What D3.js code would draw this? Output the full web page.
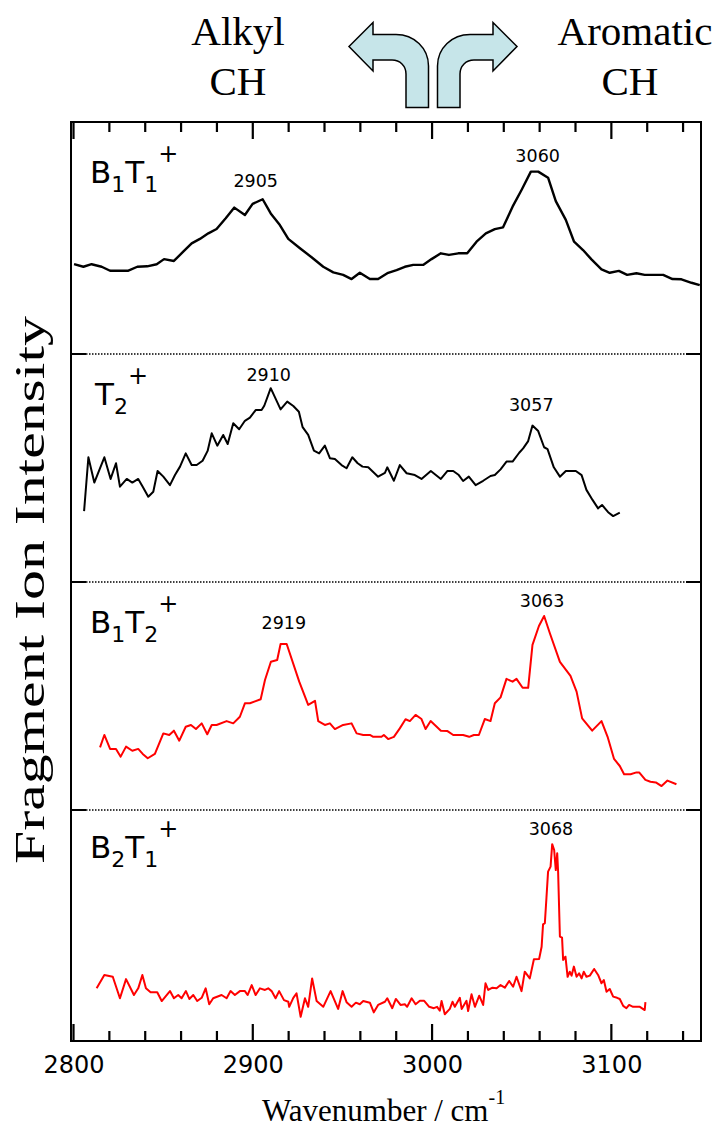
<!DOCTYPE html>
<html>
<head>
<meta charset="utf-8">
<script src="https://cdn.jsdelivr.net/npm/d3@7"></script>
<style>
  body { margin: 0; background: #fff; }
  svg { display: block; }
</style>
</head>
<body>
<div id="chart"></div>
<script>
// ---- data ----
var b1t1Wn = [2800.3,2805.5,2810.1,2815.7,2820.4,2830.6,2835.6,2841.1,2846.4,2850.5,2856.0,2861.2,2865.9,2870.5,2875.2,2879.8,2884.9,2889.7,2895.6,2899.9,2905.5,2910.0,2915.1,2919.8,2926.3,2932.8,2939.3,2944.9,2950.4,2955.1,2959.7,2965.3,2969.9,2975.5,2980.2,2984.8,2989.5,2995.0,2999.7,3004.9,3009.4,3014.6,3019.6,3024.8,3030.0,3035.0,3039.6,3044.9,3049.9,3055.1,3059.2,3064.7,3069.0,3074.6,3079.2,3084.2,3088.9,3094.5,3099.1,3104.2,3108.8,3114.0,3118.6,3128.9,3134.1,3139.1,3144.7,3149.3];
var b1t1Int = [38.7,37.6,38.7,37.6,35.9,35.9,37.6,37.8,38.7,40.9,40.1,44.1,47.7,49.6,52.0,53.9,58.5,63.1,59.9,64.7,66.7,60.6,55.6,49.6,45.6,41.7,37.6,35.2,34.1,32.3,35.0,32.3,32.3,35.0,36.2,37.6,38.4,38.4,40.9,43.4,42.7,43.4,43.4,48.4,52.0,53.8,54.6,63.5,70.7,78.6,78.6,76.0,65.9,57.8,48.4,44.8,40.8,36.5,35.0,35.8,34.1,34.8,34.1,34.1,32.3,32.2,30.7,29.7];

var t2Wn = [2805.9,2808.3,2811.6,2817.2,2820.7,2823.7,2825.9,2829.7,2832.8,2836.1,2838.6,2841.7,2844.5,2846.9,2850.1,2853.8,2856.6,2859.4,2862.6,2865.9,2868.7,2872.0,2874.8,2877.1,2880.2,2883.5,2886.0,2889.1,2892.4,2895.6,2898.4,2901.6,2904.9,2906.4,2910.0,2915.5,2919.2,2922.6,2925.7,2927.8,2930.9,2934.1,2937.0,2940.2,2943.0,2945.8,2949.5,2952.3,2955.5,2958.5,2961.2,2964.4,2969.9,2973.7,2975.0,2978.7,2982.0,2985.8,2990.4,2994.1,2999.3,3004.9,3008.6,3011.8,3014.9,3017.3,3020.5,3024.3,3028.5,3032.6,3035.0,3038.2,3041.5,3044.9,3048.6,3050.8,3053.6,3056.0,3059.2,3062.5,3064.4,3067.9,3071.3,3074.6,3080.2,3083.4,3086.1,3089.5,3092.6,3094.8,3098.2,3101.0,3104.7];
var t2Int = [31.1,54.7,43.6,54.7,45.2,52.1,41.8,45.2,43.6,45.2,41.8,37.4,39.6,48.7,46.2,42.5,46.9,50.6,56.4,51.3,51.3,53.2,57.5,65.2,59.8,64.5,60.5,69.6,67.0,70.7,72.1,75.4,75.4,77.3,85.0,75.7,79.1,77.2,74.7,67.9,64.5,57.6,56.4,59.8,54.3,53.9,51.3,49.9,54.7,52.1,50.6,50.3,46.2,47.9,50.3,44.4,51.3,47.7,46.9,45.2,48.7,45.2,48.7,48.7,46.9,44.3,46.2,42.5,44.4,46.5,46.9,49.4,52.8,52.8,56.7,58.6,61.8,68.6,66.2,59.1,58.3,50.3,46.2,48.7,48.7,46.9,40.4,36.0,32.3,33.8,30.6,28.9,30.4];

var b1t2Wn = [2814.8,2817.2,2820.4,2823.7,2826.3,2829.3,2832.8,2836.1,2838.6,2841.4,2845.4,2850.1,2853.4,2856.0,2859.0,2862.6,2865.5,2868.3,2871.5,2874.6,2877.1,2879.8,2885.4,2889.1,2892.8,2895.6,2898.4,2904.4,2906.8,2910.1,2913.6,2915.5,2918.9,2925.9,2930.9,2934.7,2936.5,2940.2,2943.0,2945.8,2950.4,2955.1,2957.9,2961.6,2965.3,2967.2,2971.8,2973.1,2975.5,2978.7,2982.0,2985.2,2987.6,2990.8,2994.1,2996.4,2999.2,3004.9,3008.6,3011.8,3017.3,3020.7,3023.3,3026.1,3029.4,3032.6,3035.0,3038.2,3041.5,3044.9,3047.1,3050.5,3053.6,3056.0,3059.6,3062.5,3065.7,3071.3,3077.2,3080.6,3083.7,3089.3,3094.5,3097.9,3101.5,3104.7,3107.1,3110.7,3114.0,3115.5,3119.0,3121.8,3124.8,3128.0,3131.3,3136.3];
var b1t2Int = [27.5,32.9,26.8,26.8,23.4,27.8,26.0,26.8,24.6,22.7,24.6,33.6,32.9,34.8,30.4,36.5,37.3,35.5,38.0,33.2,37.3,37.3,39.0,38.0,40.9,46.8,46.8,48.6,57.0,65.0,65.8,72.8,72.8,56.3,46.1,47.9,39.0,37.3,38.0,35.5,37.3,38.0,33.6,32.9,32.9,32.1,32.1,32.9,31.1,32.1,35.8,39.8,39.0,41.7,39.9,35.5,39.0,34.8,34.6,32.9,32.9,32.1,32.9,32.9,39.9,39.0,46.8,49.4,57.5,56.3,57.5,53.6,53.6,72.4,80.7,85.1,77.5,65.0,58.8,51.9,40.2,34.8,39.0,32.1,22.4,19.3,15.7,15.7,16.5,16.5,13.2,12.4,12.1,10.5,12.9,11.3];

var b2t1Wn = [2812.9,2817.2,2821.9,2825.9,2829.3,2833.7,2836.1,2838.4,2840.4,2843.0,2846.7,2849.2,2853.8,2856.0,2858.4,2860.3,2862.7,2864.6,2866.8,2869.0,2871.5,2873.7,2875.7,2877.9,2882.6,2885.4,2887.6,2890.0,2892.8,2895.6,2897.1,2899.4,2901.6,2904.0,2906.8,2908.6,2910.5,2912.7,2914.7,2917.4,2919.8,2920.3,2922.6,2924.4,2926.7,2929.1,2930.9,2933.1,2935.6,2939.3,2943.4,2947.6,2950.1,2952.3,2955.1,2957.5,2959.7,2961.6,2965.3,2967.5,2969.9,2973.7,2975.0,2977.8,2979.8,2982.4,2984.8,2986.1,2988.6,2990.8,2993.2,2995.6,2998.4,3001.0,3002.8,3004.3,3005.3,3007.1,3009.9,3011.4,3012.7,3015.5,3016.5,3019.2,3020.1,3022.0,3023.9,3026.3,3028.5,3029.8,3031.3,3033.7,3036.0,3038.2,3040.6,3043.0,3045.2,3047.1,3049.9,3051.7,3054.5,3056.8,3059.7,3061.1,3061.9,3062.9,3063.8,3064.7,3066.1,3067.0,3068.1,3069.0,3069.8,3070.3,3071.3,3072.5,3073.1,3074.4,3075.6,3076.8,3077.8,3079.1,3080.6,3082.0,3083.4,3084.6,3086.1,3088.0,3090.4,3092.6,3094.5,3095.8,3097.3,3099.1,3101.0,3103.2,3104.7,3106.6,3108.4,3109.9,3112.1,3115.9,3118.6,3119.0];
var b2t1Int = [22.8,28.6,27.8,18.5,26.8,19.9,22.8,28.6,22.8,21.1,21.1,17.3,21.6,18.5,19.9,18.5,21.6,18.2,19.9,17.3,18.7,22.8,15.9,18.5,19.9,18.5,21.6,19.9,21.6,21.6,19.9,24.2,19.9,22.8,22.1,22.8,21.6,18.5,21.6,17.7,17.0,14.8,18.7,20.6,10.5,18.5,14.8,27.1,17.3,14.8,21.6,13.9,21.6,16.8,14.8,16.6,15.9,17.3,16.6,12.4,15.6,17.0,18.5,14.2,18.2,15.6,15.9,14.8,18.5,15.9,17.4,17.4,14.8,14.2,14.8,13.1,17.3,11.6,13.9,17.0,14.8,18.7,13.9,17.4,13.0,20.2,14.8,19.6,15.6,25.0,22.1,23.1,22.8,24.2,23.1,26.0,23.5,27.8,21.6,30.0,27.1,35.4,35.5,40.8,50.5,51.0,62.0,73.3,75.5,85.2,82.7,74.0,81.3,73.3,45.2,44.7,35.1,36.5,27.8,30.0,28.3,32.2,27.8,29.3,27.1,30.0,27.8,28.3,31.2,28.6,25.0,26.4,21.3,22.5,19.2,18.7,18.2,15.2,14.2,15.6,14.8,14.8,13.4,16.8];

// panel names (main, sub, main, sub)
var panelNames = [["B","1","T","1"], ["T","2"], ["B","1","T","2"], ["B","2","T","1"]];
var panelColors = ["#000000", "#000000", "#ff0000", "#ff0000"];
var peakLabels = [[2905, 3060], [2910, 3057], [2919, 3063], [3068]];

var majorTicks = [2800, 2900, 3000, 3100];
var minorTicks = [2820, 2840, 2860, 2880, 2920, 2940, 2960, 2980, 3020, 3040, 3060, 3080, 3120, 3140];

// ---- layout ----
var W = 719, H = 1128;
var plotL = 71, plotR = 701, plotT = 122, plotB = 1041;
var panelTops = [122, 354, 582, 810, 1041];
var nameBase = [183, 405, 633, 858];
var peakBase = [[187, 162], [381, 411], [629, 607], [835]];
var peakDx = [[-6, -2], [-2, -3], [-3, -3], [-3]];

var svg = d3.select("#chart").append("svg")
    .attr("width", W)
    .attr("height", H);

var x = d3.scaleLinear()
    .domain([2798.6, 3150])
    .range([plotL, plotR]);

// frame
svg.append("rect")
    .attr("x", plotL).attr("y", plotT)
    .attr("width", plotR - plotL).attr("height", plotB - plotT)
    .attr("fill", "none")
    .attr("stroke", "#000")
    .attr("stroke-width", 2);

// x ticks as one path per edge (top hangs down, bottom points up)
var tickSet = majorTicks.map(function(v) { return {v: v, len: 17}; })
    .concat(minorTicks.map(function(v) { return {v: v, len: 10}; }));

var topTicks = tickSet.map(function(d) {
  return "M" + x(d.v) + "," + plotT + "V" + (plotT + d.len);
}).join("");
var botTicks = tickSet.map(function(d) {
  return "M" + x(d.v) + "," + plotB + "V" + (plotB - d.len);
}).join("");

svg.append("path")
    .attr("d", topTicks + botTicks)
    .attr("fill", "none")
    .attr("stroke", "#000")
    .attr("stroke-width", 2.2);

// tick labels
var xAxis = svg.append("g")
    .attr("transform", "translate(0," + plotB + ")")
    .call(d3.axisBottom(x).tickValues(majorTicks).tickSize(0).tickPadding(15).tickFormat(d3.format("d")));
xAxis.select(".domain").remove();
xAxis.selectAll("text")
    .attr("fill", "#000")
    .style("font-family", "DejaVu Sans")
    .style("font-size", "24px");

var series = [
  {wn: b1t1Wn, v: b1t1Int, width: 2.4},
  {wn: t2Wn, v: t2Int, width: 2},
  {wn: b1t2Wn, v: b1t2Int, width: 2},
  {wn: b2t1Wn, v: b2t1Int, width: 2}
];

series.forEach(function(s, p) {
  var y = d3.scaleLinear()
      .domain([0, 100])
      .range([panelTops[p + 1], panelTops[p]]);

  var pts = s.wn.map(function(w, i) { return [w, s.v[i]]; });

  var line = d3.line()
      .x(function(d) { return x(d[0]); })
      .y(function(d) { return y(d[1]); });

  svg.append("path")
      .datum(pts)
      .attr("fill", "none")
      .attr("stroke", panelColors[p])
      .attr("stroke-width", s.width)
      .attr("stroke-linejoin", "round")
      .attr("d", line);

  // short y ticks at the panel edges, both sides
  var g = svg.append("g");
  [[plotL, plotL + 15], [plotR - 15, plotR]].forEach(function(xs) {
    g.selectAll(null)
        .data([0, 100])
        .enter().append("line")
        .attr("x1", xs[0]).attr("x2", xs[1])
        .attr("y1", function(d) { return y(d); })
        .attr("y2", function(d) { return y(d); })
        .attr("stroke", "#000").attr("stroke-width", 2);
  });

  // dotted separator
  if (p < 3) {
    svg.append("line")
        .attr("x1", plotL + 15).attr("x2", plotR - 15)
        .attr("y1", y(0)).attr("y2", y(0))
        .attr("stroke", "#000")
        .attr("stroke-width", 1.5)
        .attr("stroke-dasharray", "1.5,1.5");
  }

  // panel name, e.g. B1T1+
  var nm = panelNames[p];
  var t = svg.append("text")
      .attr("x", p == 1 ? 95 : 90)
      .attr("y", nameBase[p])
      .style("font-family", "DejaVu Sans")
      .style("font-size", "31px");
  for (var k = 0; k < nm.length; k += 2) {
    t.append("tspan").attr("dy", k == 0 ? 0 : -9).text(nm[k]);
    t.append("tspan").attr("dy", 9).style("font-size", "22px").text(nm[k + 1]);
  }
  t.append("tspan").attr("dy", -30).style("font-size", "24px").text("+");

  // peak labels
  peakLabels[p].forEach(function(v, j) {
    svg.append("text")
        .attr("x", x(v) + peakDx[p][j])
        .attr("y", peakBase[p][j])
        .attr("text-anchor", "middle")
        .style("font-family", "DejaVu Sans")
        .style("font-size", "17.5px")
        .text(v);
  });
});

// axis titles
var xt = svg.append("text")
    .attr("x", 262)
    .attr("y", 1121)
    .style("font-family", "Liberation Serif")
    .style("font-size", "31px")
    .text("Wavenumber / cm");
xt.append("tspan").attr("dy", -17).style("font-size", "20px").text("-1");

svg.append("text")
    .attr("transform", "translate(44,590) rotate(-90)")
    .attr("text-anchor", "middle")
    .attr("textLength", 548)
    .attr("lengthAdjust", "spacingAndGlyphs")
    .style("font-family", "Liberation Serif")
    .style("font-size", "42px")
    .text("Fragment Ion Intensity");

// header: Alkyl CH <- -> Aromatic CH
var head = [["Alkyl", 238], ["Aromatic", 635]];
head.forEach(function(h) {
  svg.append("text").attr("x", h[1]).attr("y", 45)
      .attr("text-anchor", "middle")
      .style("font-family", "Liberation Serif").style("font-size", "41px")
      .text(h[0]);
});
[238, 630].forEach(function(cx) {
  svg.append("text").attr("x", cx).attr("y", 95)
      .attr("text-anchor", "middle")
      .style("font-family", "Liberation Serif").style("font-size", "41px")
      .text("CH");
});

var arrow = "M428.5,107.5 L428.5,66 C428.5,48 414,34.5 396,34.5 L373,34.5 L373,22.5 L349,46.5 L373,71 L373,60 L392,60 C400,60 406,66 406,74 L406,107.5 Z";
svg.append("path")
    .attr("d", arrow)
    .attr("fill", "#c6e5e9")
    .attr("stroke", "#000")
    .attr("stroke-width", 1.5);
svg.append("path")
    .attr("d", arrow)
    .attr("transform", "translate(866,0) scale(-1,1)")
    .attr("fill", "#c6e5e9")
    .attr("stroke", "#000")
    .attr("stroke-width", 1.5);
</script>
</body>
</html>
